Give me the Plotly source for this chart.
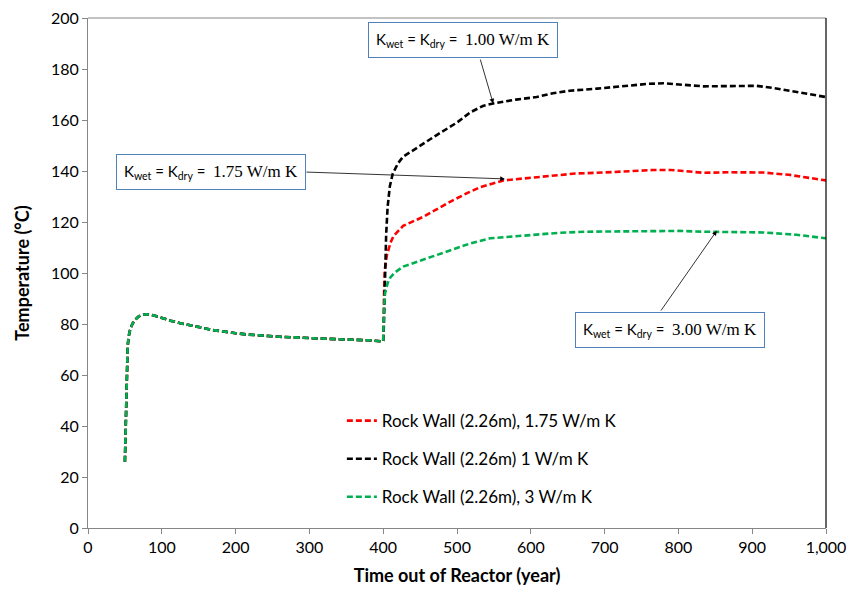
import plotly.graph_objects as go

# Shared early part (all three series coincide before year 400)
early_x = [50, 50.5, 51, 52, 52.8, 53.7, 55, 57, 60, 63.7, 68, 72, 79.5, 86, 93, 100, 112, 125,
           150, 170, 200, 215, 240, 260, 305, 350, 380, 399.5]
early_y = [26, 34, 41, 52, 59.3, 71, 75, 77.6, 80, 81.6, 82.8, 83.5, 83.8, 83.6, 83.0, 82.3, 81.3, 80.3,
           78.7, 77.6, 76.4, 75.9, 75.4, 75.0, 74.4, 74.0, 73.6, 73.2]

black_x = [400, 401, 402, 404, 406, 409, 413, 420, 427, 445, 472, 500, 518, 535, 549, 580, 608, 630,
           653, 690, 721, 760, 780, 800, 834, 870, 906, 930, 960, 1000]
black_y = [73.5, 80, 95, 115, 126, 134, 139, 143, 145.6, 149, 154, 159, 163, 165.5, 166.5, 168, 169,
           170.5, 171.5, 172.3, 173.2, 174.2, 174.4, 174, 173.2, 173.3, 173.4, 172.5, 171, 169]

red_x = [400, 401, 402, 405, 410, 414, 427, 454, 475, 495, 515, 531, 563, 600, 631, 660, 698, 730,
         766, 790, 811, 834, 870, 915, 950, 1000]
red_y = [73.5, 90, 101, 107, 112, 114.5, 118.5, 122, 125.5, 128.6, 131.5, 133.6, 136.3, 137.3, 138.3,
         139, 139.4, 140, 140.4, 140.4, 140, 139.3, 139.5, 139.4, 138.5, 136.3]

green_x = [400, 401, 402.5, 406, 409, 415, 427, 450, 472, 495, 518, 545, 575, 608, 640, 675, 720,
           766, 800, 834, 875, 915, 960, 1000]
green_y = [73.5, 86, 92, 96, 98, 100, 102.5, 104.8, 107, 109.5, 111.6, 113.6, 114.3, 115, 115.8,
           116.2, 116.4, 116.6, 116.5, 116.2, 116, 115.9, 115, 113.6]

series_names = ["Rock Wall (2.26m), 1.75 W/m K", "Rock Wall (2.26m) 1 W/m K", "Rock Wall (2.26m), 3 W/m K"]
series_colors = ["#ff0000", "#000000", "#00b050"]

x_ticks = list(range(0, 1001, 100))
y_ticks = list(range(0, 201, 20))

fig = go.Figure()
for name, color, xs, ys, grp in [
    (series_names[0], series_colors[0], red_x, red_y, "a"),
    (series_names[1], series_colors[1], black_x, black_y, "b"),
    (series_names[2], series_colors[2], green_x, green_y, "c"),
]:
    fig.add_trace(go.Scatter(
        x=early_x + xs, y=early_y + ys, mode="lines", name=name, legendgroup=grp,
        line=dict(color=color, width=2.6, dash="6px,3px"),
    ))

label_font = dict(family="Lato, Liberation Sans, sans-serif", size=15, color="#000")

def klabel(v):
    return ("K<sub>wet</sub> = K<sub>dry</sub> =  "
            "<span style='font-family:Liberation Serif, DejaVu Serif, serif; font-size:17px'>" + v + " W/m K</span>")

boxes = [(508, 191.4, "1.00"), (166.7, 139.6, "1.75"), (788.6, 77.6, "3.00")]
for bx, by, v in boxes:
    fig.add_annotation(x=bx, y=by, xref="x", yref="y", text=klabel(v), showarrow=False,
                       font=label_font, bgcolor="white", bordercolor="#4f81bd", borderwidth=1,
                       borderpad=7, xanchor="center", yanchor="middle")

arrows = [(549, 166.5, 531, 184.3), (565, 136.9, 294, 139.6), (852, 116.6, 775, 84.7)]
for tx, ty, sx, sy in arrows:
    fig.add_annotation(x=tx, y=ty, ax=sx, ay=sy, xref="x", yref="y", axref="x", ayref="y",
                       text="", showarrow=True, arrowhead=2, arrowsize=1.2, arrowwidth=0.8,
                       arrowcolor="#000")

# top border (gray) and right border (black)
fig.add_shape(type="line", xref="paper", yref="paper", x0=0, x1=1, y0=1, y1=1,
              line=dict(color="#868686", width=1))
fig.add_shape(type="line", xref="paper", yref="paper", x0=1, x1=1, y0=0, y1=1,
              line=dict(color="#000", width=1.2))

fig.update_layout(
    width=852, height=592,
    margin=dict(l=88, r=26, t=18, b=64, autoexpand=False),
    paper_bgcolor="white", plot_bgcolor="white",
    font=dict(family="Lato, Liberation Sans, sans-serif", size=16, color="#000"),
    showlegend=True,
    legend=dict(x=0.344, y=0.245, xanchor="left", yanchor="top", bgcolor="rgba(0,0,0,0)",
                font=dict(size=17), tracegroupgap=13, traceorder="grouped"),
    xaxis=dict(range=[0, 1000], tickvals=x_ticks, tickformat=",d", ticks="outside", ticklen=5,
               tickcolor="#868686", showline=True, linecolor="#868686", linewidth=1,
               showgrid=False, zeroline=False, tickfont=dict(size=16), automargin=False,
               title=dict(text="<b>Time out of Reactor (year)</b>", font=dict(size=18), standoff=14)),
    yaxis=dict(range=[0, 200], tickvals=y_ticks, ticks="outside", ticklen=5,
               tickcolor="#868686", showline=True, linecolor="#868686", linewidth=1,
               showgrid=False, zeroline=False, tickfont=dict(size=16), automargin=False,
               title=dict(text="<b>Temperature (°C)</b>", font=dict(size=18), standoff=16)),
)

fig.write_html("out.html")
